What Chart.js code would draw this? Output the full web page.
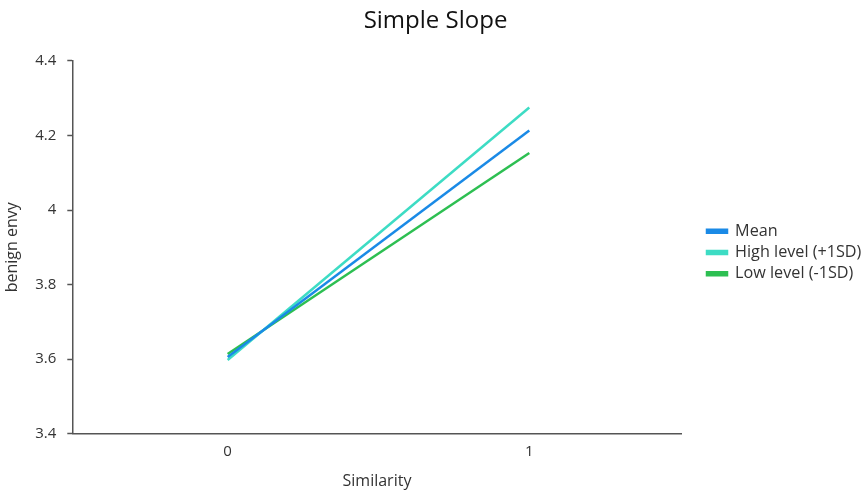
<!DOCTYPE html>
<html><head><meta charset="utf-8">
<script src="https://cdn.jsdelivr.net/npm/chart.js@4/dist/chart.umd.min.js"></script>
<style>html,body{margin:0;padding:0;background:#fff}#wrap{width:864px;height:491px}</style>
</head><body><div id="wrap"><canvas id="c" width="864" height="491"></canvas></div>
<script>
const xValues = [0, 1];
const seriesNames = ["Mean", "High level (+1SD)", "Low level (-1SD)"];
const meanValues = [3.606, 4.213];
const highValues = [3.598, 4.275];
const lowValues = [3.614, 4.153];
const yTicks = [3.4, 3.6, 3.8, 4, 4.2, 4.4];
const colors = ["#1a8ae6", "#3ddcc4", "#2dbf52"];
const font = "'Open Sans', 'Noto Sans', sans-serif";

const mk = (vals) => xValues.map((x, i) => ({x: x, y: vals[i]}));
const all = [meanValues, highValues, lowValues];

const layoutShift = {
  id: 'layoutShift',
  afterLayout(chart) {
    const lg = chart.legend;
    if (lg) {
      const dx = 707 - 5 - lg.left;
      lg.left += dx; lg.right += dx;
      lg.top += 7; lg.bottom += 7;
    }
    const tb = chart.titleBlock;
    if (tb) { tb.left += 10; tb.right += 10; }
  }
};

new Chart(document.getElementById('c'), {
  type: 'line',
  data: {
    datasets: seriesNames.map((n, i) => ({
      label: n, data: mk(all[i]), borderColor: colors[i], backgroundColor: colors[i],
      borderWidth: 2.5, pointRadius: 0, tension: 0
    }))
  },
  plugins: [layoutShift],
  options: {
    responsive: false, animation: false,
    layout: {padding: {left: 0, right: 13, top: 0, bottom: 0}},
    plugins: {
      title: {display: true, text: 'Simple Slope', color: '#111', font: {family: font, size: 24, weight: 'normal'}, padding: {top: 7, bottom: 25}},
      legend: {position: 'right', align: 'center',
        labels: {boxWidth: 20, boxHeight: 3, color: '#333', font: {family: font, size: 16.2}, padding: 5}},
      tooltip: {enabled: false}
    },
    scales: {
      x: {type: 'linear', min: -0.515, max: 1.505,
        afterBuildTicks: (ax) => { ax.ticks = xValues.map(v => ({value: v})); },
        grid: {display: false, drawTicks: false},
        border: {display: true, color: '#555', width: 1.5},
        ticks: {color: '#333', font: {family: font, size: 15}, padding: 9},
        title: {display: true, text: 'Similarity', color: '#333', font: {family: font, size: 16}, padding: {top: 2, bottom: 0}}
      },
      y: {min: 3.4, max: 4.4,
        afterBuildTicks: (ax) => { ax.ticks = yTicks.map(v => ({value: v})); },
        grid: {display: true, drawOnChartArea: false, drawTicks: true, tickLength: 5, tickColor: '#555', tickWidth: 1.5},
        border: {display: true, color: '#555', width: 1.5},
        ticks: {color: '#333', font: {family: font, size: 15}, padding: 11, callback: (v) => String(v)},
        title: {display: true, text: 'benign envy', color: '#333', font: {family: font, size: 16}, padding: {top: 3, bottom: 2}}
      }
    }
  }
});
</script></body></html>
